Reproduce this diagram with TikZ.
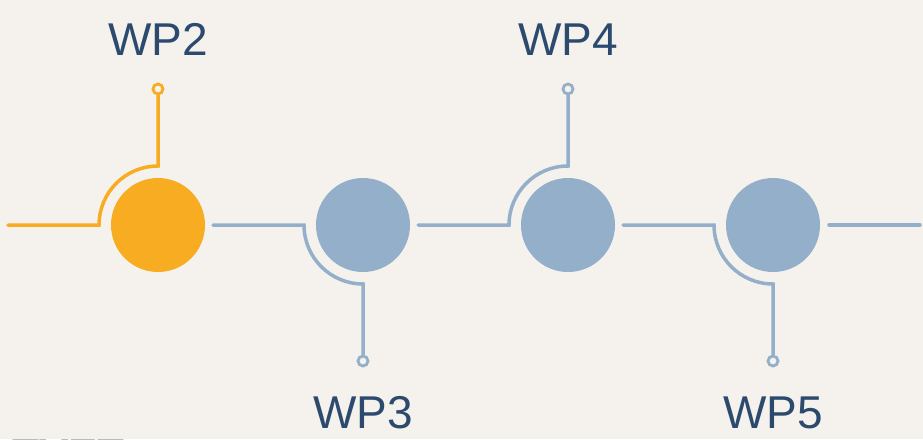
\documentclass[tikz,border=0pt]{standalone}
\usepackage{fontspec}
\setmainfont{Liberation Sans}
\definecolor{bg}{HTML}{F5F2ED}
\definecolor{wporange}{HTML}{F7AC22}
\definecolor{wpblue}{HTML}{94AFC9}
\definecolor{wptext}{HTML}{2C4A6E}
\begin{document}
\begin{tikzpicture}[x=1pt,y=-1pt,
  wpdot/.style={circle,fill=#1,minimum size=94pt,inner sep=0pt},
  pin/.style={circle,draw=#1,fill=bg,line width=2.8pt,minimum size=10pt,inner sep=0pt},
  wire/.style={draw=#1,line width=3.5pt,line cap=round},
  wplabel/.style={text=wptext,font=\fontsize{46}{50}\selectfont,inner sep=0pt,anchor=base}]
\fill[bg] (0,0) rectangle (923,439);
\clip (0,0) rectangle (923,439);
\useasboundingbox (0,0) rectangle (923,439);
% circles
\node[wpdot=wporange] (c1) at (158,225) {};
\node[wpdot=wpblue] (c2) at (363,225) {};
\node[wpdot=wpblue] (c3) at (568,225) {};
\node[wpdot=wpblue] (c4) at (773,225) {};
% pins
\node[pin=wporange] (m1) at (158,89) {};
\node[pin=wpblue] (m2) at (363,361) {};
\node[pin=wpblue] (m3) at (568,89) {};
\node[pin=wpblue] (m4) at (773,361) {};
% free ends
\coordinate (s) at (8,225);
\coordinate (e) at (920,225);
% connectors
\draw[wire=wporange] (s) -- ([xshift=-59pt]c1.center) arc[start angle=180,end angle=90,radius=59pt] -- (m1.south);
\draw[wire=wpblue] ([xshift=55pt]c1.center) -- ([xshift=-59pt]c2.center) arc[start angle=180,end angle=270,radius=59pt] -- (m2.north);
\draw[wire=wpblue] ([xshift=55pt]c2.center) -- ([xshift=-59pt]c3.center) arc[start angle=180,end angle=90,radius=59pt] -- (m3.south);
\draw[wire=wpblue] ([xshift=55pt]c3.center) -- ([xshift=-59pt]c4.center) arc[start angle=180,end angle=270,radius=59pt] -- (m4.north);
\draw[wire=wpblue] ([xshift=56pt]c4.center) -- (e);
% labels
\node[wplabel] (l2) at (158,55) {WP2};
\node[wplabel] (l3) at (363,428) {WP3};
\node[wplabel] (l4) at (568,55) {WP4};
\node[wplabel] (l5) at (773,428) {WP5};
% cut-off caption
\node[font=\bfseries\fontsize{44}{48}\selectfont,text=black,inner sep=0pt,anchor=base west] (cap) at (12,470.5) {TVET};
\end{tikzpicture}
\end{document}
